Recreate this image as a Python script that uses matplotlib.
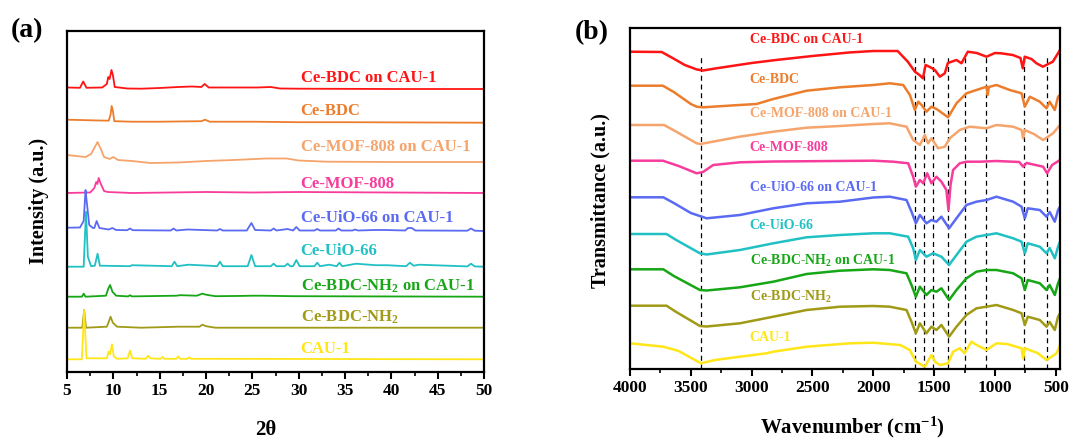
import matplotlib
matplotlib.use('Agg')
import matplotlib.pyplot as plt
from matplotlib.ticker import MultipleLocator

plt.rcParams['font.family'] = ['Liberation Serif', 'DejaVu Serif']
plt.rcParams['font.weight'] = 'bold'
plt.rcParams['mathtext.fontset'] = 'custom'
plt.rcParams['mathtext.rm'] = 'Liberation Serif:bold'
plt.rcParams['mathtext.bf'] = 'Liberation Serif:bold'
plt.rcParams['mathtext.it'] = 'Liberation Serif:bold'
plt.rcParams['mathtext.default'] = 'rm'

# sample names, top to bottom
names = ['Ce-BDC on CAU-1', 'Ce-BDC', 'Ce-MOF-808 on CAU-1', 'Ce-MOF-808',
         'Ce-UiO-66 on CAU-1', 'Ce-UiO-66', 'Ce-BDC-NH$_2$ on CAU-1',
         'Ce-BDC-NH$_2$', 'CAU-1']
colors = ['#ff1414', '#ec7d2c', '#f5a46c', '#f73c9c', '#5a6af2',
          '#20c0c4', '#16a616', '#a09a16', '#ffe619']

# ---- XRD (2theta, intensity a.u.)
xrd_bdc_cau_x = [5, 6.4, 6.75, 7.1, 8.8, 9.3, 9.45, 9.6, 9.8, 9.95, 10.15, 11.5, 13, 15, 17,
                 18.5, 19.5, 19.85, 20.3, 22, 24, 25.5, 27, 28, 30, 40, 50]
xrd_bdc_cau_y = [1.5, 1.2, 7.5, 1.2, 1.5, 5, 12, 10, 19, 14, 2, 0.5, 0.3, 1, 2,
                 2.5, 2, 5, 1.5, 1.5, 1.5, 1.5, 2, 0.5, 0.3, 0, 0]

xrd_bdc_x = [5, 8, 9.5, 9.7, 9.82, 9.95, 10.1, 12, 15, 19.5, 19.9, 20.4, 25, 30, 35, 50]
xrd_bdc_y = [3, 2.3, 2, 8, 16.7, 12, 1.5, 1, 1, 1.5, 3, 1, 1, 0.5, 0.5, 0]

xrd_mof_cau_x = [5, 6, 7, 7.6, 8.0, 8.3, 8.65, 9.0, 9.6, 10.0, 10.5, 12, 14, 17, 20, 23,
                 26.5, 28.7, 30, 33, 40, 50]
xrd_mof_cau_y = [7, 6, 5, 8, 15, 20, 13, 5, 3, 5, 2, 1, -1, -0.5, 1, 2,
                 3.5, 3.5, 1.5, 0.3, 0, 0]

xrd_mof_x = [5, 7.5, 7.95, 8.15, 8.28, 8.42, 8.65, 9.0, 9.4, 12, 20, 25, 30, 50]
xrd_mof_y = [0, 0.5, 5, 11, 9, 15, 9, 2, 1, 0, 1, 0.5, 1, 0]

xrd_uio_cau_x = [5, 6.4, 6.8, 7.0, 7.12, 7.4, 7.8, 7.95, 8.2, 8.5, 9.5, 9.9, 10.3, 11.5, 11.8,
                 12.1, 16.2, 16.5, 16.8, 18.0, 21.2, 21.5, 21.8, 24.4, 24.9, 25.3, 27.0, 27.3,
                 27.6, 28.8, 29.4, 29.75, 30.1, 31.7, 32.0, 32.3, 34.0, 34.3, 34.6, 35.8, 36.1,
                 36.4, 38.2, 39.4, 41.5, 41.8, 42.2, 42.6, 48.2, 48.6, 49.0, 50]
xrd_uio_cau_y = [3.3, 3.5, 10, 41, 30, 6, 3, 3, 10, 3, 1.5, 3, 1, 0.8, 2.5,
                 0.8, 0.5, 2.5, 0.5, 1.5, 0.5, 2, 0.5, 0.5, 8, 1, 0.5, 2.5,
                 0.5, 2, 0.5, 4, 0.5, 0.5, 2, 0.5, 0.5, 2.5, 0.5, 0.5, 1.5,
                 0.5, 1, 1, 0.5, 3, 3, 0.5, 0.3, 2.5, 0.3, 0]

xrd_uio_x = [5, 6.8, 7.05, 7.25, 7.6, 8.0, 8.3, 8.55, 11.8, 12.0, 16.3, 16.6, 16.9, 18.1, 20.3,
             21.2, 21.5, 21.8, 24.5, 24.9, 25.3, 27.0, 27.3, 27.6, 28.5, 28.8, 29.1, 29.4,
             29.75, 30.1, 31.7, 32.0, 32.3, 33.3, 34.1, 34.4, 34.7, 36.2, 38.3, 39.5, 41.6,
             42.0, 42.4, 43.0, 48.2, 48.6, 49.0, 50]
xrd_uio_y = [0, 0, 55, 10, 0.5, 1, 13, 1, 0.5, 1.5, 0.5, 5, 0.5, 2, 1,
             0.5, 5, 0.5, 0.5, 11.7, 0.5, 0.5, 3, 0.5, 0.5, 3, 0.5, 0.5,
             6.7, 0.5, 0.5, 4, 0.5, 2, 0.5, 4, 0.5, 3, 1.5, 1.5, 0.5,
             4, 1, 2, 0.3, 3, 0.3, 0]

xrd_nh2_cau_x = [5, 6.6, 6.8, 7.0, 9.2, 9.45, 9.65, 9.9, 10.3, 11.6, 11.8, 12.0, 16.8, 17.2,
                 19.0, 19.6, 20.0, 21, 24, 25, 26, 29.5, 50]
xrd_nh2_cau_y = [0, 0, 3, 0, 1, 8, 11.7, 5, 1, 0.3, 1.5, 0.3, 1, 1.5,
                 1, 3, 2, 0.5, 0.8, 1, 1, 0.5, 0]

xrd_nh2_x = [5, 6.65, 6.85, 7.05, 9.3, 9.55, 9.7, 9.95, 10.4, 13, 17, 19.3, 19.6, 20.0, 21, 50]
xrd_nh2_y = [0, 0, 17.7, 0, 1, 7, 11, 5, 1, 0, 1, 1, 3, 1.5, 0, 0]

xrd_cau_x = [5, 6.6, 6.85, 7.1, 9.3, 9.5, 9.65, 9.85, 10.05, 10.4, 11.55, 11.8, 12.05, 13.5,
             13.75, 14.0, 15.1, 15.3, 15.5, 16.8, 17.0, 17.2, 18.0, 18.2, 18.4, 20, 50]
xrd_cau_y = [0, 0, 49, 1, 1, 7.7, 5, 15, 3, 0.5, 1, 8.7, 1, 0.5,
             3.5, 1, 0.5, 2.5, 0.5, 0.5, 3, 0.5, 0.5, 2, 0.5, 0.5, 0]

xrd_offsets = [283, 249.3, 210, 179, 141, 105.3, 75.3, 44.3, 12.7]

# ---- FTIR (wavenumber, transmittance a.u.)
ir_bdc_cau_x = [4000, 3740, 3650, 3550, 3450, 3400, 3300, 3000, 2800, 2500, 2200, 2000, 1800,
                1716, 1658, 1620, 1592, 1570, 1540, 1520, 1494, 1453, 1412, 1387, 1316, 1275,
                1223, 1150, 1069, 1000, 950, 853, 790, 771, 755, 700, 658, 606, 524, 465]
ir_bdc_cau_y = [-0.7, -1, -7, -14, -18.5, -19.5, -17.5, -12, -9, -5, -1.5, 0, 0,
                -10.7, -20.7, -24, -27.3, -14, -15.7, -17, -19, -25.7, -22.3, -12, -9, -12.3,
                -0.7, -2, -5.7, -2, -2.3, -4, -7, -17.3, -5.7, -8, -12.3, -15.7, -10.7, 1]

ir_bdc_x = [4000, 3730, 3640, 3500, 3452, 3400, 3100, 2960, 2822, 2548, 2274, 2000, 1864, 1754,
            1699, 1658, 1630, 1603, 1563, 1522, 1480, 1385, 1316, 1234, 1152, 1069, 1060, 1050,
            987, 878, 781, 754, 713, 631, 576, 550, 508, 481, 465]
ir_bdc_y = [-0.7, -0.7, -7, -19, -21.7, -22.3, -20, -19, -14, -5.7, -2.3, 0, 1.7, 0,
            -10, -25, -16.7, -20, -26.7, -21.7, -24, -32.3, -18.3, -8.3, -5, -1.7, -10, -2,
            0, -5, -8.3, -21.7, -11.7, -16.7, -23.3, -16.7, -25, -11.7, -10]

ir_mof_cau_x = [4000, 3720, 3630, 3452, 3420, 3100, 2822, 2548, 2274, 2000, 1864, 1727, 1672,
                1617, 1576, 1550, 1522, 1467, 1412, 1371, 1289, 1207, 1069, 987, 850, 781, 768,
                755, 680, 604, 522, 465]
ir_mof_cau_y = [-1, -1, -7, -19.3, -20, -12.7, -7.7, -3.7, -2, 0, 0.7, -2.7, -16,
                -21, -11, -19.3, -14.3, -24.3, -22.7, -14.3, -6, -2.7, -4.3, -1, -2.7, -6, -14.3,
                -6, -10, -16, -9.3, -1]

ir_mof_x = [4000, 3730, 3600, 3452, 3400, 3316, 3096, 2822, 2000, 1836, 1713, 1672, 1650, 1617,
            1590, 1557, 1522, 1481, 1440, 1399, 1382, 1365, 1344, 1289, 1234, 1124, 987, 800,
            768, 740, 604, 571, 530, 465]
ir_mof_y = [0.3, 0.3, -5, -12.3, -11, -4, -1.3, -0.5, 0.3, -0.7, -2.3, -15.7, -25.7, -19,
            -22.3, -12.3, -22.3, -15.7, -20.7, -29, -49, -24, -9, -2.3, -0.7, -0.7, 0, -1,
            -5.7, -2, -5.7, -12.3, -4, 1]

ir_uio_cau_x = [4000, 3726, 3640, 3500, 3370, 3096, 2822, 2548, 2274, 2000, 1864, 1727, 1686,
                1650, 1617, 1563, 1522, 1481, 1440, 1377, 1316, 1234, 1152, 1069, 987, 850, 781,
                754, 730, 631, 576, 550, 508, 481, 465]
ir_uio_cau_y = [-0.3, -0.3, -6, -16, -21.3, -18, -11.3, -6.3, -4.7, -0.5, 0.3, -3, -14.7,
                -26.3, -18, -26.3, -23, -24.7, -19.7, -31.3, -21.3, -8, -4.7, -3, 0.3, -4.7, -9.7,
                -21.3, -11.3, -13, -19.7, -15, -24.7, -13, -9.7]

ir_uio_x = [4000, 3700, 3620, 3425, 3370, 3096, 2822, 2548, 2274, 2000, 1864, 1713, 1672, 1650,
            1617, 1563, 1508, 1440, 1377, 1316, 1234, 1152, 1069, 987, 850, 781, 754, 730, 631,
            576, 550, 508, 481, 465]
ir_uio_y = [-0.5, -0.5, -6.5, -19.8, -21, -16.5, -9.8, -3.8, -1.5, 0.2, 0.2, -3.2, -14.8, -26.5,
            -16.5, -23.2, -19.8, -23.2, -31.5, -21.5, -8.2, -3.2, -1.5, 0.2, -4.8, -8.2, -19.8,
            -9.8, -13.2, -19.8, -14.5, -24.8, -13.2, -8.2]

ir_nh2_cau_x = [4000, 3726, 3640, 3425, 3370, 3096, 2822, 2548, 2274, 2000, 1864, 1727, 1686,
                1650, 1617, 1563, 1522, 1481, 1440, 1377, 1316, 1234, 1152, 1069, 987, 850, 781,
                754, 730, 631, 576, 550, 508, 481, 465]
ir_nh2_cau_y = [0.2, 0.2, -6.5, -20.5, -21, -17.8, -12.2, -4.5, -1.2, 0.2, -0.5, -3.8, -15.5,
                -27.2, -17.2, -25.5, -20.5, -22.2, -18.8, -30.5, -20.5, -8.8, -2.2, -0.5, -0.5,
                -3.8, -8.8, -20.5, -10.5, -13.8, -20.5, -15.5, -25.5, -13.8, -8.8]

ir_nh2_x = [4000, 3700, 3620, 3425, 3370, 3096, 2822, 2548, 2274, 2000, 1864, 1727, 1686, 1650,
            1617, 1563, 1522, 1481, 1440, 1377, 1316, 1234, 1152, 1069, 987, 850, 781, 754, 730,
            631, 576, 550, 508, 481, 465]
ir_nh2_y = [0.3, 0.3, -6, -20, -20.5, -17.3, -10.7, -4, -0.7, 0, -0.7, -4, -15.7, -27.3,
            -17.3, -27.3, -20.7, -24, -19, -30.7, -20.7, -9, -2.3, -0.7, 1, -4, -7.3, -19, -10.7,
            -14, -20.7, -16, -24, -10.7, -7.3]

ir_cau_x = [4000, 3726, 3600, 3417, 3300, 3096, 2877, 2822, 2548, 2192, 2000, 1781, 1700, 1650,
            1576, 1522, 1490, 1453, 1385, 1344, 1289, 1250, 1193, 1150, 1069, 987, 900, 781, 768,
            755, 650, 576, 493, 465]
ir_cau_y = [0, -3.4, -7.7, -20, -16.7, -13.4, -10, -8.4, -3.4, 0, 0.6, -1.7, -6.7, -18.4,
            -23.4, -11.7, -18.7, -21.7, -20, -8.4, -5, -10, 1.6, -1.7, -6.7, 0, -0.7, -5, -15,
            -5, -9.7, -16.7, -10, -1.7]

ir_offsets = [318, 284, 245, 208, 172, 135.5, 99.5, 63, 25.7]

# marked bands (cm-1)
band_positions = [3420, 1655, 1580, 1505, 1385, 1250, 1070, 760, 570]

xrd_data = [(xrd_bdc_cau_x, xrd_bdc_cau_y), (xrd_bdc_x, xrd_bdc_y),
            (xrd_mof_cau_x, xrd_mof_cau_y), (xrd_mof_x, xrd_mof_y),
            (xrd_uio_cau_x, xrd_uio_cau_y), (xrd_uio_x, xrd_uio_y),
            (xrd_nh2_cau_x, xrd_nh2_cau_y), (xrd_nh2_x, xrd_nh2_y),
            (xrd_cau_x, xrd_cau_y)]
ir_data = [(ir_bdc_cau_x, ir_bdc_cau_y), (ir_bdc_x, ir_bdc_y),
           (ir_mof_cau_x, ir_mof_cau_y), (ir_mof_x, ir_mof_y),
           (ir_uio_cau_x, ir_uio_cau_y), (ir_uio_x, ir_uio_y),
           (ir_nh2_cau_x, ir_nh2_cau_y), (ir_nh2_x, ir_nh2_y),
           (ir_cau_x, ir_cau_y)]

W, H = 1069, 440


def style_axes(ax):
    for sp in ax.spines.values():
        sp.set_linewidth(1.6)
    ax.set_yticks([])
    ax.tick_params(axis='x', which='major', direction='out', length=5, width=1.5,
                   labelsize=12.5, pad=3)
    ax.tick_params(axis='x', which='minor', direction='out', length=3, width=1.2)
    for lab in ax.get_xticklabels():
        lab.set_fontweight('bold')


fig = plt.figure(figsize=(W / 100, H / 100), dpi=100)

# ---- panel (a)
ax1 = fig.add_axes([67 / W, 1 - 372 / H, 417 / W, 341 / H])
for (x, y), off, c in zip(xrd_data, xrd_offsets, colors):
    ax1.plot(x, [v + off for v in y], color=c, lw=1.3)
ax1.set_xlim(5, 50)
ax1.set_ylim(0, 341)
ax1.xaxis.set_major_locator(MultipleLocator(5))
ax1.xaxis.set_minor_locator(MultipleLocator(2.5))
style_axes(ax1)
xrd_label_y = [290, 257, 221.3, 184, 150.3, 117, 81, 50.3, 18.7]
for name, c, ly in zip(names, colors, xrd_label_y):
    ax1.text(30.2, ly, name, color=c, fontsize=12, fontweight='bold', va='baseline')

# ---- panel (b)
ax2 = fig.add_axes([630 / W, 1 - 369 / H, 430 / W, 341 / H])
for wn in band_positions:
    ax2.plot([wn, wn], [0, 314], color='black', lw=0.9, ls=(0, (4, 3)))
for (x, y), off, c in zip(ir_data, ir_offsets, colors):
    ax2.plot(x, [v + off for v in y], color=c, lw=1.8)
ax2.set_xlim(4000, 465)
ax2.set_ylim(0, 341)
ax2.xaxis.set_major_locator(MultipleLocator(500))
ax2.xaxis.set_minor_locator(MultipleLocator(250))
style_axes(ax2)
ir_label_y = [325.7, 286, 252.3, 218.3, 178.3, 140, 104, 68.3, 28.3]
for name, c, ly in zip(names, colors, ir_label_y):
    ax2.text(3015, ly, name, color=c, fontsize=10, fontweight='bold', va='baseline')

# ---- axis titles and panel letters
fig.text(39 / W, 1 - 201 / H, 'Intensity (a.u.)', rotation=90, ha='center', va='center',
         fontsize=14.5, fontweight='bold')
fig.text(600 / W, 1 - 201 / H, 'Transmittance (a.u.)', rotation=90, ha='center', va='center',
         fontsize=14.5, fontweight='bold')
fig.text(266 / W, 1 - 430 / H, '2θ', ha='center', va='center', fontsize=15, fontweight='bold')
fig.text(852 / W, 1 - 427 / H, 'Wavenumber (cm$^{-1}$)', ha='center', va='center',
         fontsize=15, fontweight='bold')
fig.text(27 / W, 1 - 31 / H, '(a)', ha='center', va='center', fontsize=20, fontweight='bold')
fig.text(592 / W, 1 - 33 / H, '(b)', ha='center', va='center', fontsize=20, fontweight='bold')

fig.savefig('out.png', dpi=100)
